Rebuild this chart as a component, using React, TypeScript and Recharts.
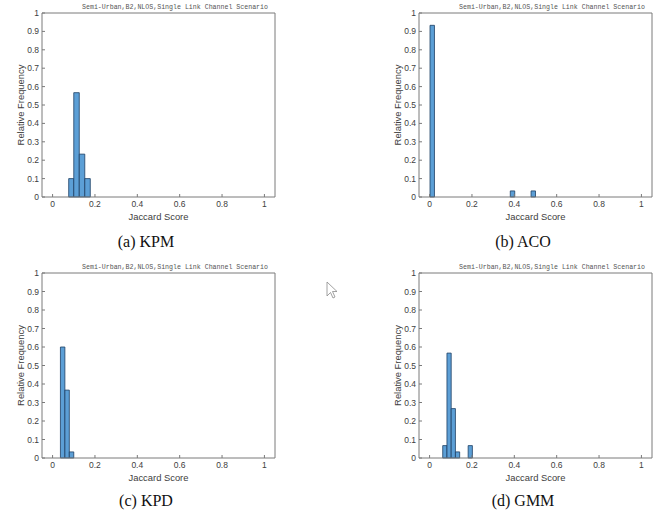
import React from 'react';
import { ComposedChart, XAxis, YAxis, ReferenceArea, Label } from 'recharts';

const TITLE = 'Semi-Urban,B2,NLOS,Single Link Channel Scenario';
const X_TICKS = [0, 0.2, 0.4, 0.6, 0.8, 1];
const Y_TICKS = [0, 0.1, 0.2, 0.3, 0.4, 0.5, 0.6, 0.7, 0.8, 0.9, 1];

// histogram bins (start / end of each bin) and relative frequency
const KPM_START = [0.076, 0.1, 0.126, 0.152];
const KPM_END = [0.1, 0.126, 0.152, 0.178];
const KPM_FREQ = [0.1, 0.567, 0.233, 0.1];

const ACO_START = [0.002, 0.381, 0.479];
const ACO_END = [0.023, 0.402, 0.5];
const ACO_FREQ = [0.933, 0.033, 0.033];

const KPD_START = [0.037, 0.058, 0.079];
const KPD_END = [0.058, 0.079, 0.1];
const KPD_FREQ = [0.6, 0.367, 0.033];

const GMM_START = [0.062, 0.082, 0.102, 0.122, 0.182];
const GMM_END = [0.082, 0.102, 0.122, 0.142, 0.202];
const GMM_FREQ = [0.067, 0.567, 0.267, 0.033, 0.067];

const W = 331;
const H = 259;
const PLOT_W = 233;
const AXIS_COLOR = '#7a7a7a';
const TEXT_COLOR = '#404040';
const BAR_FILL = '#5c9fd6';
const BAR_EDGE = '#1d3f63';
const tickStyle = { fontSize: 8.5, fill: TEXT_COLOR, fontFamily: 'Liberation Sans, Arial, sans-serif' };

type PanelProps = {
  left: number;
  top: number;
  plotLeft: number;
  plotTop: number;
  plotBottom: number;
  start: number[];
  end: number[];
  freq: number[];
  caption: string;
};

const xLabel = (props: any) => {
  const vb = props.viewBox;
  const cx = vb.x + vb.width / 2;
  const cy = vb.y + 19;
  return (
    <text x={cx} y={cy} textAnchor="middle" dominantBaseline="central"
      style={{ fontSize: 9.4, fill: TEXT_COLOR, fontFamily: 'Liberation Sans, Arial, sans-serif' }}>
      Jaccard Score
    </text>
  );
};

const yLabel = (props: any) => {
  const vb = props.viewBox;
  const cx = vb.x + vb.width - 22;
  const cy = vb.y + vb.height / 2;
  return (
    <text x={cx} y={cy} textAnchor="middle" dominantBaseline="central" transform={`rotate(-90 ${cx} ${cy})`}
      style={{ fontSize: 9.4, fill: TEXT_COLOR, fontFamily: 'Liberation Sans, Arial, sans-serif' }}>
      Relative Frequency
    </text>
  );
};

const Panel: React.FC<PanelProps> = ({ left, top, plotLeft, plotTop, plotBottom, start, end, freq, caption }) => {
  const margin = {
    top: plotTop - 1,
    right: W - plotLeft - PLOT_W - 1,
    bottom: H - plotBottom - 30,
    left: plotLeft - 30,
  };
  const data = freq.map((f, i) => ({ x: (start[i] + end[i]) / 2, y: f }));
  return (
    <div style={{ position: 'absolute', left, top, width: W, height: H }}>
      <ComposedChart width={W} height={H} data={data} margin={margin}>
        <XAxis xAxisId="b" dataKey="x" type="number" domain={[-0.05, 1.05]} ticks={X_TICKS} allowDataOverflow
          height={30} tickSize={-3} tickMargin={7} stroke={AXIS_COLOR} tick={tickStyle}>
          <Label content={xLabel} />
        </XAxis>
        <XAxis xAxisId="t" orientation="top" type="number" domain={[-0.05, 1.05]} ticks={X_TICKS} allowDataOverflow
          height={1} tickSize={-3} tick={false} stroke={AXIS_COLOR} />
        <YAxis yAxisId="l" type="number" domain={[0, 1]} ticks={Y_TICKS} allowDataOverflow
          width={30} tickSize={-3} tickMargin={6} stroke={AXIS_COLOR} tick={tickStyle}>
          <Label content={yLabel} />
        </YAxis>
        <YAxis yAxisId="r" orientation="right" type="number" domain={[0, 1]} ticks={Y_TICKS} allowDataOverflow
          width={1} tickSize={-3} tick={false} stroke={AXIS_COLOR} />
        {freq.map((f, i) => (
          <ReferenceArea key={i} xAxisId="b" yAxisId="l" x1={start[i]} x2={end[i]} y1={0} y2={f}
            fill={BAR_FILL} fillOpacity={1} stroke={BAR_EDGE} strokeWidth={0.8} ifOverflow="visible" />
        ))}
      </ComposedChart>
      <div style={{
        position: 'absolute', left: plotLeft + 133, top: plotTop - 9, transform: 'translateX(-50%)',
        fontFamily: 'Liberation Mono, monospace', fontSize: 6.6, color: '#555', whiteSpace: 'nowrap', lineHeight: '8px',
      }}>{TITLE}</div>
      <div style={{
        position: 'absolute', left: plotLeft + 104, top: 232, transform: 'translateX(-50%)',
        fontFamily: 'Liberation Serif, Times New Roman, serif', fontSize: 16, color: '#111', whiteSpace: 'nowrap', lineHeight: '20px',
      }}>{caption}</div>
    </div>
  );
};

export default function App() {
  return (
    <div style={{ position: 'absolute', left: 0, top: 0, width: 662, height: 518, background: '#fff', overflow: 'hidden' }}>
      <Panel left={0} top={0} plotLeft={42} plotTop={13} plotBottom={197}
        start={KPM_START} end={KPM_END} freq={KPM_FREQ} caption="(a) KPM" />
      <Panel left={331} top={0} plotLeft={88} plotTop={13} plotBottom={197}
        start={ACO_START} end={ACO_END} freq={ACO_FREQ} caption="(b) ACO" />
      <Panel left={0} top={259} plotLeft={42} plotTop={14} plotBottom={199}
        start={KPD_START} end={KPD_END} freq={KPD_FREQ} caption="(c) KPD" />
      <Panel left={331} top={259} plotLeft={88} plotTop={14} plotBottom={199}
        start={GMM_START} end={GMM_END} freq={GMM_FREQ} caption="(d) GMM" />
      <svg style={{ position: 'absolute', left: 326, top: 281 }} width={14} height={20}>
        <path d="M1 1 L1 15 L4.5 11.5 L7 17 L9 16 L6.5 10.5 L11 10.5 Z" fill="#fff" stroke="#8a8a8a" strokeWidth={0.8} />
      </svg>
    </div>
  );
}
